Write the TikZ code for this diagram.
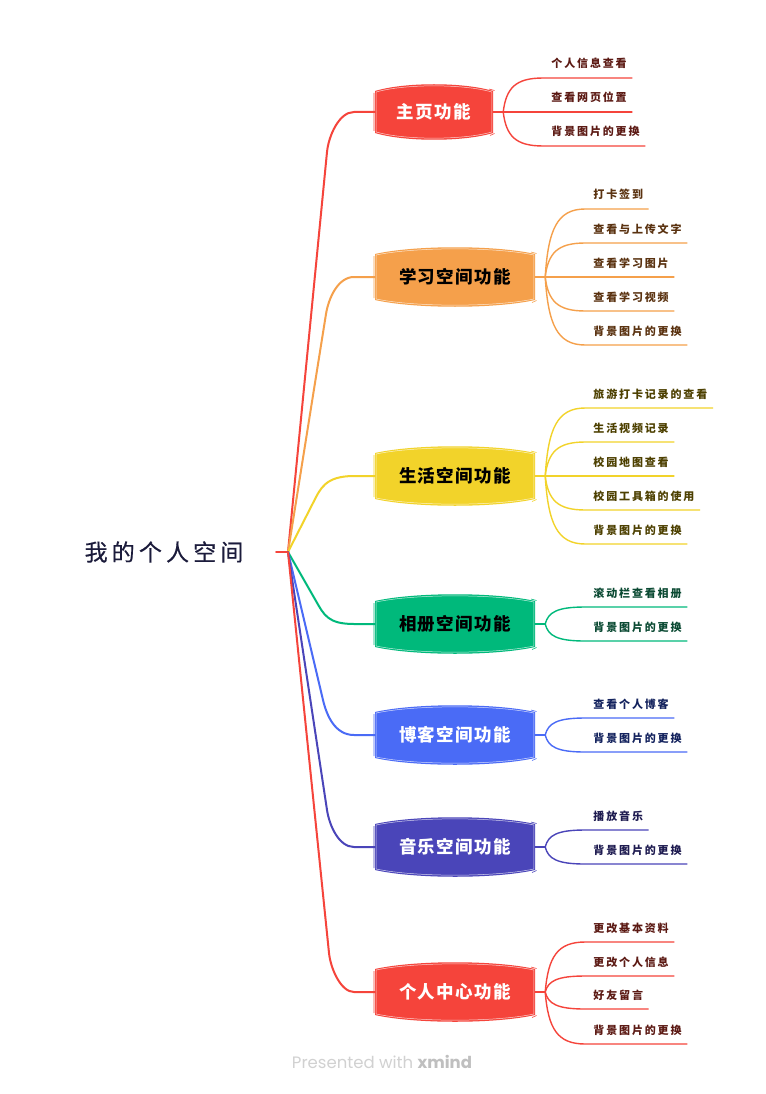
\documentclass[tikz,border=0pt]{standalone}
\usepackage{fontspec}
\usetikzlibrary{calc}
\newfontfamily\rootfont[LetterSpace=18,FakeBold=0.4]{Noto Sans CJK SC}
\newfontfamily\topicfont[LetterSpace=8]{Noto Sans CJK SC}
\newfontfamily\leaffont[LetterSpace=17]{Noto Sans CJK SC}
\newfontfamily\footfont{Poppins}

\definecolor{cRed}{HTML}{F5443B}
\definecolor{cOrange}{HTML}{F5A04B}
\definecolor{cYellow}{HTML}{F2D32A}
\definecolor{cGreen}{HTML}{00B97B}
\definecolor{cBlue}{HTML}{4A6BF6}
\definecolor{cIndigo}{HTML}{4A45B9}
\definecolor{dRed}{HTML}{5C1A14}
\definecolor{dOrange}{HTML}{5A3210}
\definecolor{dYellow}{HTML}{4D4000}
\definecolor{dGreen}{HTML}{0B4A33}
\definecolor{dBlue}{HTML}{14235E}
\definecolor{dIndigo}{HTML}{1E1B50}
\definecolor{rootink}{HTML}{1B1B3B}

% topic box: name, cx, cy, width, height, fill, text colour, label
\newcommand\topicbox[8]{%
  \pgfmathsetmacro\tbL{#2-#4/2}%
  \pgfmathsetmacro\tbR{#2+#4/2}%
  \pgfmathsetmacro\tbT{#3-#5/2}%
  \pgfmathsetmacro\tbB{#3+#5/2}%
  \pgfmathsetmacro\tbQ{#4*0.25}%
  \fill[#6] (\tbL,\tbT+7) .. controls (#2-\tbQ,\tbT-2) and (#2+\tbQ,\tbT-2) .. (\tbR,\tbT+7)
    -- (\tbR,\tbB-7) .. controls (#2+\tbQ,\tbB+2) and (#2-\tbQ,\tbB+2) .. (\tbL,\tbB-7) -- cycle;
  % loose hand-drawn rim
  \draw[white, line width=0.5pt, opacity=0.75] (\tbL+1.2,\tbT+8) .. controls (#2-\tbQ,\tbT-0.2) and (#2+\tbQ,\tbT-0.2) .. (\tbR-1.2,\tbT+8)
    -- (\tbR-1.2,\tbB-8) .. controls (#2+\tbQ,\tbB+0.2) and (#2-\tbQ,\tbB+0.2) .. (\tbL+1.2,\tbB-8) -- cycle;
  \draw[#6, line width=0.6pt] (\tbR-4,\tbT+5) -- (\tbR+1.5,\tbT+6.5) (\tbR-3,\tbB-4.5) -- (\tbR+1.5,\tbB-6.5)
    (\tbL-1,\tbT+9) -- (\tbL-1,\tbB-9);
  \node[topictext, text=#7, minimum width=#4pt, minimum height=#5pt] (#1) at (#2,#3) {#8};
}

% trunk from the hub to a topic: topic, colour, bend x, bend y, topic y
\newcommand\trunkto[5]{%
  \draw[trunk, #2] (hub) -- (#3,#4) .. controls ($(#3,#4)!-16pt!(hub)$) and (#3+12,#5) .. (354,#5) -- (#1.west);
}

% leaf with underline: junction, name, vertical offset, line colour, text colour, label
\newcommand\leaf[6]{%
  \node[leaftext, text=#5, anchor=base west] (#2) at ($(#1)+(48,#3-10)$) {#6};
  \draw[twig, #4] (#1) .. controls ($(#1)+(3,0.7*#3)$) and ($(#1)+(12,#3)$) .. ($(#1)+(40,#3)$)
    -- ($(#2.base east)+(5,10)$);
}

\begin{document}
\begin{tikzpicture}[x=1pt,y=-1pt,
  trunk/.style={line width=2pt, line cap=round, line join=round},
  twig/.style={line width=1.4pt, line cap=round, line join=round},
  topictext/.style={font=\topicfont\bfseries\fontsize{17.5}{20}\selectfont, inner sep=0pt},
  leaftext/.style={font=\leaffont\bfseries\fontsize{11}{13}\selectfont, inner sep=0pt},
  roottext/.style={font=\rootfont\fontsize{23}{26}\selectfont, text=rootink, inner sep=0pt}]
\useasboundingbox (0,0) rectangle (765,1094);
\fill[white] (0,0) rectangle (765,1094);

% central topic
\node[roottext] (root) at (164,552) {我的个人空间};
\coordinate (rootout) at (276,552);
\coordinate (hub) at (288,552);
\draw[trunk, cRed] (rootout) -- (hub);

% main topics
\topicbox{t1}{434}{112}{118}{56}{cRed}{white}{主页功能}
\topicbox{t2}{455}{277}{160}{60}{cOrange}{black}{学习空间功能}
\topicbox{t3}{455}{476}{160}{60}{cYellow}{black}{生活空间功能}
\topicbox{t4}{455}{624}{160}{60}{cGreen}{black}{相册空间功能}
\topicbox{t5}{455}{735}{160}{60}{cBlue}{white}{博客空间功能}
\topicbox{t6}{455}{847}{160}{60}{cIndigo}{white}{音乐空间功能}
\topicbox{t7}{455}{992}{160}{60}{cRed}{white}{个人中心功能}

% trunks
\trunkto{t1}{cRed}{327}{152}{112}
\trunkto{t2}{cOrange}{326}{314}{277}
\trunkto{t3}{cYellow}{313}{503}{476}
\trunkto{t4}{cGreen}{316}{601}{624}
\trunkto{t5}{cBlue}{323}{700}{735}
\trunkto{t6}{cIndigo}{327}{810}{847}
\trunkto{t7}{cRed}{329}{953}{992}

% junctions
\foreach \t/\c in {t1/cRed,t2/cOrange,t3/cYellow,t4/cGreen,t5/cBlue,t6/cIndigo,t7/cRed}{
  \coordinate (j\t) at ($(\t.east)+(10,0)$);
  \draw[twig, \c] (\t.east) -- (j\t);
}

% leaves
\leaf{jt1}{l11}{-34}{cRed}{dRed}{个人信息查看}
\leaf{jt1}{l12}{0}{cRed}{dRed}{查看网页位置}
\leaf{jt1}{l13}{34}{cRed}{dRed}{背景图片的更换}

\leaf{jt2}{l21}{-68}{cOrange}{dOrange}{打卡签到}
\leaf{jt2}{l22}{-34}{cOrange}{dOrange}{查看与上传文字}
\leaf{jt2}{l23}{0}{cOrange}{dOrange}{查看学习图片}
\leaf{jt2}{l24}{34}{cOrange}{dOrange}{查看学习视频}
\leaf{jt2}{l25}{68}{cOrange}{dOrange}{背景图片的更换}

\leaf{jt3}{l31}{-68}{cYellow}{dYellow}{旅游打卡记录的查看}
\leaf{jt3}{l32}{-34}{cYellow}{dYellow}{生活视频记录}
\leaf{jt3}{l33}{0}{cYellow}{dYellow}{校园地图查看}
\leaf{jt3}{l34}{34}{cYellow}{dYellow}{校园工具箱的使用}
\leaf{jt3}{l35}{68}{cYellow}{dYellow}{背景图片的更换}

\leaf{jt4}{l41}{-17}{cGreen}{dGreen}{滚动栏查看相册}
\leaf{jt4}{l42}{17}{cGreen}{dGreen}{背景图片的更换}

\leaf{jt5}{l51}{-17}{cBlue}{dBlue}{查看个人博客}
\leaf{jt5}{l52}{17}{cBlue}{dBlue}{背景图片的更换}

\leaf{jt6}{l61}{-17}{cIndigo}{dIndigo}{播放音乐}
\leaf{jt6}{l62}{17}{cIndigo}{dIndigo}{背景图片的更换}

\leaf{jt7}{l71}{-50}{cRed}{dRed}{更改基本资料}
\leaf{jt7}{l72}{-16}{cRed}{dRed}{更改个人信息}
\leaf{jt7}{l73}{17}{cRed}{dRed}{好友留言}
\leaf{jt7}{l74}{52}{cRed}{dRed}{背景图片的更换}

% footer
\node[font=\footfont\fontsize{16.5}{19}\selectfont, text=black!18] (foot) at (382,1062) {Presented with \textbf{\color{black!25}xmind}};
\end{tikzpicture}
\end{document}
